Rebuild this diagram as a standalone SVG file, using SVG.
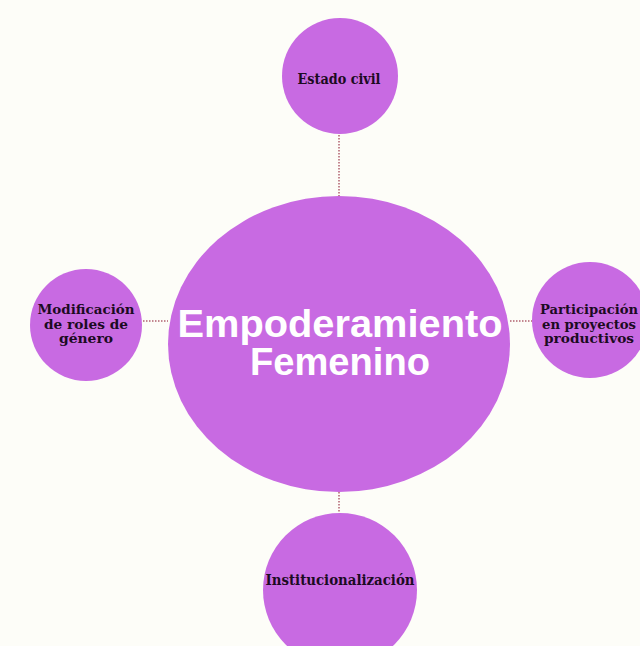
<svg xmlns="http://www.w3.org/2000/svg" width="640" height="646" viewBox="0 0 640 646">
<defs>
<style>
.node{fill:#c86ae2;}
.lbl{font-family:"DejaVu Serif","Liberation Serif",serif;font-weight:bold;fill:#1c0b22;text-anchor:middle;}
.main{font-family:"Liberation Sans","DejaVu Sans",sans-serif;font-weight:bold;fill:#ffffff;text-anchor:middle;font-size:38px;}
.conn{stroke:#b0606e;stroke-width:1.5;stroke-dasharray:1.5 1.5;fill:none;}
</style>
</defs>
<rect width="640" height="646" fill="#fdfdf8"/>
<g id="connectors">
<line class="conn" x1="339" y1="135" x2="339" y2="196"/>
<line class="conn" x1="143" y1="321" x2="168" y2="321"/>
<line class="conn" x1="510" y1="321" x2="532" y2="321"/>
<line class="conn" x1="339" y1="492" x2="339" y2="513"/>
</g>
<g id="center">
<ellipse class="node" cx="339" cy="344" rx="171" ry="148"/>
<text class="main" x="340" y="337" textLength="325" lengthAdjust="spacingAndGlyphs">Empoderamiento</text>
<text class="main" x="340" y="375" textLength="180" lengthAdjust="spacingAndGlyphs">Femenino</text>
</g>
<g id="estado-civil">
<circle class="node" cx="340" cy="76" r="58"/>
<text class="lbl" x="339" y="84" font-size="14" textLength="83" lengthAdjust="spacingAndGlyphs">Estado civil</text>
</g>
<g id="modificacion">
<circle class="node" cx="86" cy="325" r="56"/>
<text class="lbl" font-size="13"><tspan x="86" y="314" textLength="97" lengthAdjust="spacingAndGlyphs">Modificación</tspan><tspan x="86" y="329" textLength="84" lengthAdjust="spacingAndGlyphs">de roles de</tspan><tspan x="86" y="343" textLength="54" lengthAdjust="spacingAndGlyphs">género</tspan></text>
</g>
<g id="participacion">
<circle class="node" cx="590" cy="320" r="58"/>
<text class="lbl" font-size="13"><tspan x="589" y="314" textLength="98" lengthAdjust="spacingAndGlyphs">Participación</tspan><tspan x="589" y="329" textLength="94" lengthAdjust="spacingAndGlyphs">en proyectos</tspan><tspan x="589" y="343" textLength="90" lengthAdjust="spacingAndGlyphs">productivos</tspan></text>
</g>
<g id="institucionalizacion">
<ellipse class="node" cx="340" cy="590" rx="77" ry="77"/>
<text class="lbl" x="340" y="585" font-size="14" textLength="149" lengthAdjust="spacingAndGlyphs">Institucionalización</text>
</g>
</svg>
